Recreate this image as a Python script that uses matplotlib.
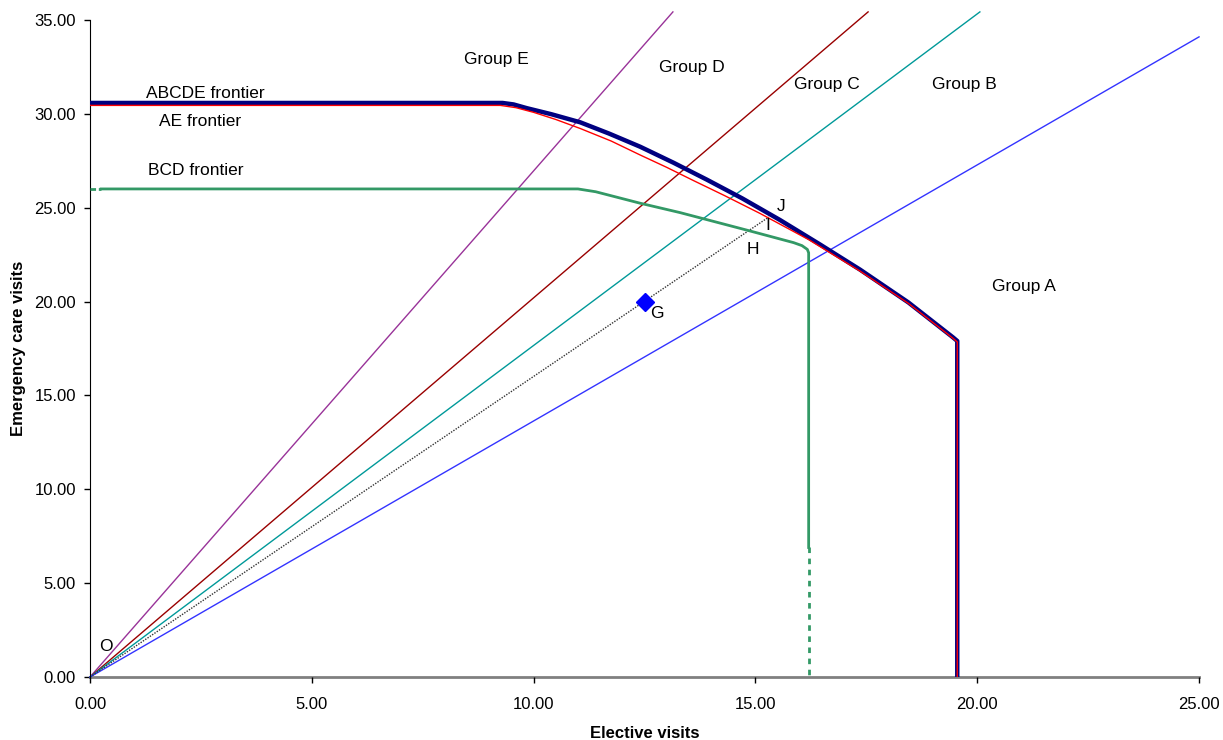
import matplotlib
matplotlib.use("Agg")
from matplotlib import pyplot as plt
from matplotlib.ticker import FormatStrFormatter

plt.rcParams['font.family'] = ['Liberation Sans', 'DejaVu Sans']

# rays from the origin, one per patient group (end points)
groups = ["Group E", "Group D", "Group C", "Group B"]
ray_x_end = [13.14, 17.54, 20.06, 25.0]
ray_y_end = [35.43, 35.43, 35.43, 34.1]
ray_colors = ["#993399", "#990000", "#009999", "#3333FF"]

# ABCDE frontier
abcde_x = [0.0, 9.3, 9.55, 9.85, 10.4, 11.05, 11.7, 12.4, 13.15, 13.9,
           14.7, 15.55, 16.45, 17.36, 18.45, 19.45, 19.55, 19.55]
abcde_y = [30.58, 30.58, 30.5, 30.3, 29.98, 29.55, 28.95, 28.25, 27.4, 26.5,
           25.5, 24.35, 23.05, 21.7, 19.95, 18.1, 17.9, 0.0]

# AE frontier
ae_x = [0.0, 9.25, 9.6, 10.0, 10.5, 11.05, 11.75, 12.4, 13.0, 13.6, 14.3,
        15.1, 16.2, 17.36, 18.45, 19.45, 19.55, 19.55]
ae_y = [30.45, 30.45, 30.33, 30.08, 29.7, 29.22, 28.55, 27.81, 27.15, 26.45,
        25.65, 24.7, 23.3, 21.62, 19.9, 18.05, 17.85, 0.0]

# BCD frontier, solid part plus the dashed stubs
bcd_x = [0.25, 11.0, 11.4, 12.4, 13.3, 14.8, 15.86, 16.05, 16.17, 16.2, 16.2]
bcd_y = [26.0, 26.0, 25.85, 25.24, 24.74, 23.81, 23.14, 22.98, 22.78, 22.6, 6.9]
bcd_dash_left_x = [0.0, 0.25]
bcd_dash_left_y = [26.0, 26.0]
bcd_dash_low_x = [16.2, 16.2]
bcd_dash_low_y = [6.9, 0.0]

# point G and the ray through it
g_x, g_y = 12.5, 20.0
oi_x = [0.0, 15.3]
oi_y = [0.0, 24.5]

labels = [
    ("ABCDE frontier", 2.6, 31.1),
    ("AE frontier", 2.48, 29.6),
    ("BCD frontier", 2.39, 26.96),
    ("Group E", 9.15, 32.9),
    ("Group D", 13.57, 32.45),
    ("Group C", 16.61, 31.54),
    ("Group B", 19.72, 31.54),
    ("Group A", 21.05, 20.78),
    ("J", 15.58, 25.09),
    ("I", 15.28, 24.03),
    ("H", 14.95, 22.75),
    ("G", 12.78, 19.34),
    ("O", 0.36, 1.6),
]


def main():
    fig = plt.figure(figsize=(12.23, 7.40), dpi=100)
    ax = fig.add_axes([0.0736, 0.0851, 0.9068, 0.8879])

    for xe, ye, c in zip(ray_x_end, ray_y_end, ray_colors):
        ax.plot([0, xe], [0, ye], color=c, lw=1.0, clip_on=False, zorder=2)

    ax.plot(oi_x, oi_y, color="#333333", lw=1.0, ls=(0, (1, 1)), zorder=2)

    ax.plot(bcd_x, bcd_y, color="#339966", lw=2.0, zorder=3)
    ax.plot(bcd_dash_left_x, bcd_dash_left_y, color="#339966", lw=2.0,
            ls=(0, (2, 1)), zorder=3)
    ax.plot(bcd_dash_low_x, bcd_dash_low_y, color="#339966", lw=2.0,
            ls=(0, (2, 2)), zorder=3)

    ax.plot(abcde_x, abcde_y, color="#000080", lw=3.2, zorder=4,
            solid_joinstyle="round")
    ax.plot(ae_x, ae_y, color="#FF0000", lw=1.0, zorder=5)

    ax.plot([g_x], [g_y], marker="D", ms=9, color="#0000FF", zorder=6)

    for text, x, y in labels:
        ax.text(x, y, text, fontsize=12.5, ha="center", va="center", zorder=7)

    ax.set_xlim(0, 25)
    ax.set_ylim(0, 35)
    ax.set_xticks(range(0, 26, 5))
    ax.set_yticks(range(0, 36, 5))
    ax.xaxis.set_major_formatter(FormatStrFormatter("%.2f"))
    ax.yaxis.set_major_formatter(FormatStrFormatter("%.2f"))
    ax.tick_params(labelsize=12, length=4, width=1, direction="out", pad=6)
    ax.tick_params(axis="x", pad=10.5)

    for side in ("top", "right"):
        ax.spines[side].set_visible(False)
    ax.spines["left"].set_color("black")
    ax.spines["bottom"].set_color("#808080")
    ax.spines["bottom"].set_linewidth(2)
    ax.spines["bottom"].set_zorder(1)

    ax.set_xlabel("Elective visits", fontsize=12, fontweight="bold", labelpad=10)
    ax.set_ylabel("Emergency care visits", fontsize=12, fontweight="bold",
                  labelpad=6)

    fig.savefig("out.png", dpi=100)


if __name__ == "__main__":
    main()
